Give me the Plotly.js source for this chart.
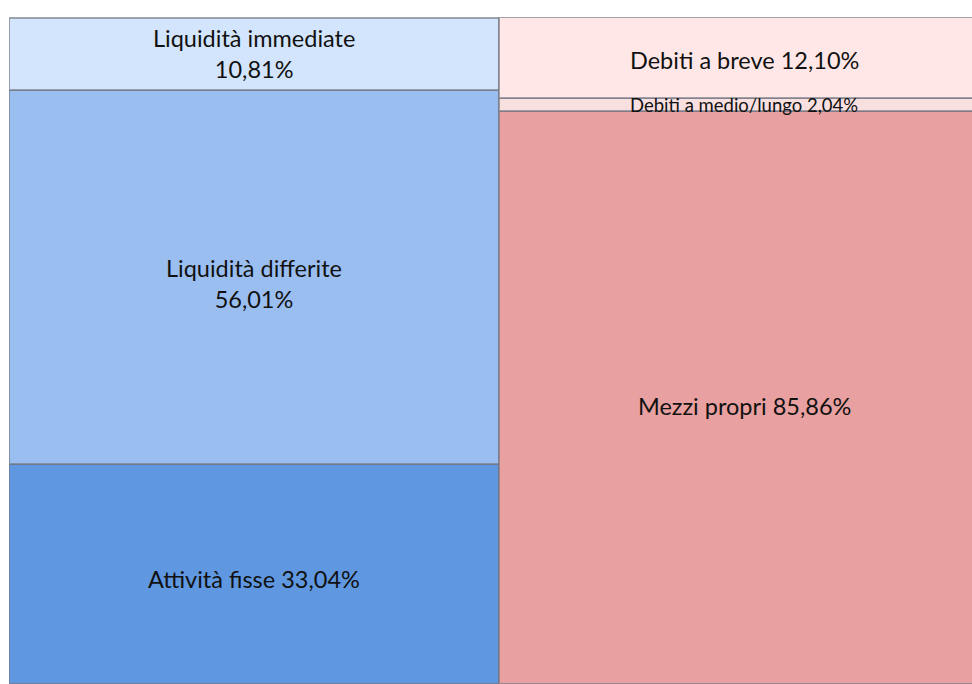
<!DOCTYPE html>
<html><head><meta charset="utf-8">
<script src="https://cdn.plot.ly/plotly-3.0.1.min.js"></script>
<style>html,body{margin:0;padding:0;background:#fff}</style>
</head><body><div id="chart" style="width:972px;height:684px"></div>
<script>
const categories = ["Attivo", "Passivo"];
const leftNames = ["Attività fisse", "Liquidità differite", "Liquidità immediate"];
const leftValues = [33.04, 56.01, 10.81];
const rightNames = ["Mezzi propri", "Debiti a medio/lungo", "Debiti a breve"];
const rightValues = [85.86, 2.04, 12.10];
const leftColors = ["#5F98E0", "#9BBEF1", "#D3E5FC"];
const rightColors = ["#E8A1A0", "#F9E0E0", "#FFE7E7"];

function fmt(v){ return v.toFixed(2).replace('.', ',') + '%'; }

const traces = [];
const annotations = [];
const font = {family: "Lato, 'Open Sans', sans-serif", size: 23.5, color: "#111"};

function addStack(names, values, colors, xi, labelFn) {
  let base = 0;
  names.forEach((n, i) => {
    traces.push({
      type: 'bar', x: [xi], y: [values[i]], name: n, width: 1,
      marker: {color: colors[i], line: {color: 'rgba(115,118,132,0.65)', width: 2}},
      hoverinfo: 'name+y', showlegend: false
    });
    const mid = base + values[i] / 2;
    annotations.push(labelFn(n, values[i], xi, mid, i));
    base += values[i];
  });
}

addStack(leftNames, leftValues, leftColors, 0, (n, v, xi, mid, i) => ({
  x: xi, y: mid, xref: 'x', yref: 'y', showarrow: false,
  text: i === 0 ? n + ' ' + fmt(v) : n + '<br>' + fmt(v),
  font: font, yshift: i === 0 ? -5 : (i === 1 ? -7 : 0)
}));
addStack(rightNames, rightValues, rightColors, 1, (n, v, xi, mid, i) => ({
  x: xi, y: mid, xref: 'x', yref: 'y', showarrow: false,
  text: n + ' ' + fmt(v),
  font: i === 1 ? Object.assign({}, font, {size: 18.5}) : font,
  yshift: i === 1 ? 0 : (i === 0 ? -8 : -3)
}));

const layout = {
  width: 972, height: 684,
  margin: {l: 9, r: 0, t: 17, b: 0},
  barmode: 'stack', bargap: 0,
  paper_bgcolor: '#fff', plot_bgcolor: '#fff',
  xaxis: {range: [-0.5, 1.465], showticklabels: false, showgrid: false, zeroline: false, fixedrange: true},
  yaxis: {range: [0, 100], showticklabels: false, showgrid: false, zeroline: false, fixedrange: true},
  annotations: annotations,
  shapes: [{type: 'line', xref: 'paper', yref: 'y', x0: 0, x1: 1, y0: 100.15, y1: 100.15, line: {color: '#EEDFE3', width: 1}}]
};
Plotly.newPlot('chart', traces, layout, {displayModeBar: false, staticPlot: true});
</script></body></html>
